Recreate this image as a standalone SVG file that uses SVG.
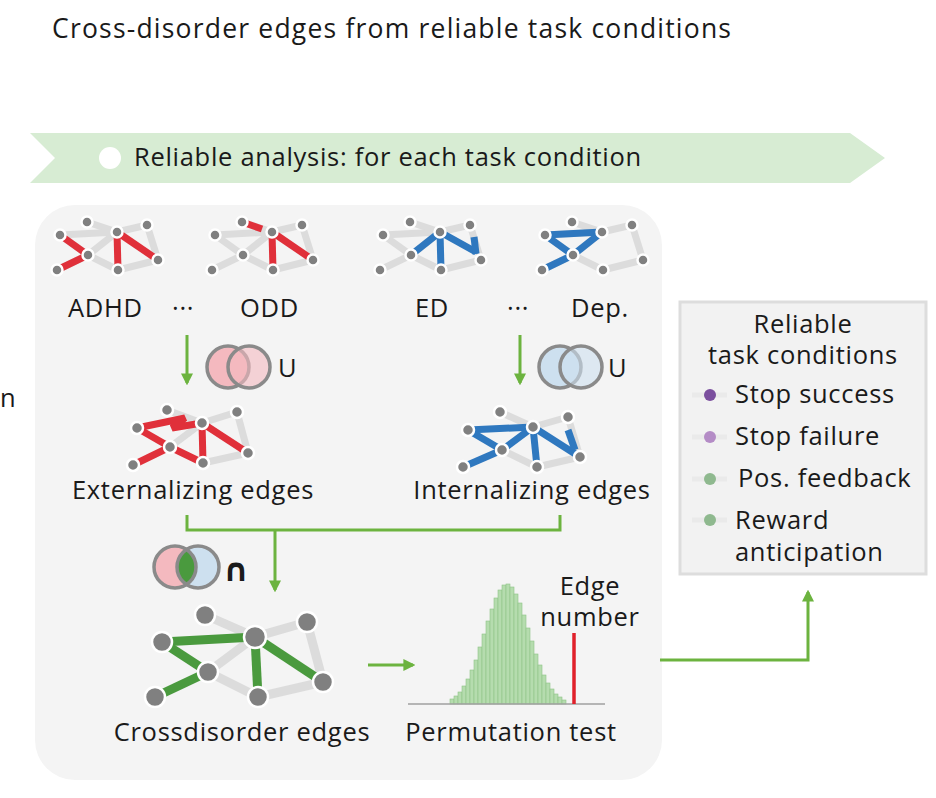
<svg xmlns="http://www.w3.org/2000/svg" xmlns:xlink="http://www.w3.org/1999/xlink" width="936" height="798" viewBox="0 0 936 798">
<style>
text{font-family:"Open Sans","Liberation Sans",sans-serif;fill:#1a1a1a}
.t{font-size:25.5px;letter-spacing:0.7px}
.g{stroke:#dcdcdc;stroke-width:7;stroke-linecap:butt}
.r{stroke:#e0303a;stroke-width:7}
.b{stroke:#2f78bf;stroke-width:7}
.gr{stroke:#4a9a3e;stroke-width:9}
.gl{stroke:#dcdcdc;stroke-width:9}
.n{fill:#808080;stroke:#fff;stroke-width:2.5}
.con{fill:none;stroke:#6cb33f;stroke-width:3}
.bar{fill:#b5dcae;stroke:#8ec386;stroke-width:0.6}
</style>
<defs>
<marker id="ah" viewBox="0 0 10 10" refX="8" refY="5" markerWidth="4" markerHeight="4" orient="auto"><path d="M0,0L10,5L0,10z" fill="#6cb33f"/></marker>
<g id="base">
<line class="g" x1="30" y1="-10" x2="60" y2="0"/><line class="g" x1="3" y1="3" x2="60" y2="0"/>
<line class="g" x1="60" y1="0" x2="90" y2="-7"/><line class="g" x1="90" y1="-7" x2="101" y2="28"/>
<line class="g" x1="31" y1="23" x2="61" y2="38"/><line class="g" x1="61" y1="38" x2="101" y2="28"/>
<line class="g" x1="31" y1="23" x2="60" y2="0"/><line class="g" x1="31" y1="23" x2="0" y2="38"/>
<line class="g" x1="3" y1="3" x2="31" y2="23"/>
</g>
<g id="nodes">
<circle class="n" cx="30" cy="-10" r="5.5"/><circle class="n" cx="3" cy="3" r="5.5"/><circle class="n" cx="60" cy="0" r="5.5"/><circle class="n" cx="90" cy="-7" r="5.5"/><circle class="n" cx="31" cy="23" r="5.5"/><circle class="n" cx="61" cy="38" r="5.5"/><circle class="n" cx="101" cy="28" r="5.5"/><circle class="n" cx="0" cy="38" r="5.5"/>
</g>
</defs>
<rect width="936" height="798" fill="#fff"/>
<text x="52" y="38" style="font-size:26.5px;letter-spacing:1.2px">Cross-disorder edges from reliable task conditions</text>
<g id="banner">
<polygon points="30,133 850,133 885,158 850,183 30,183 55,158" fill="#d7ecd3"/>
<circle cx="110" cy="158" r="11" fill="#fff"/>
<text x="134" y="166" class="t">Reliable analysis: for each task condition</text>
</g>
<text x="0" y="407" class="t">n</text>
<rect id="panel" x="35" y="205" width="627" height="575" rx="40" fill="#f4f4f4"/>

<g id="adhd" transform="translate(57,232)">
<use xlink:href="#base"/>
<line class="r" x1="3" y1="3" x2="31" y2="23"/><line class="r" x1="31" y1="23" x2="0" y2="38"/>
<line class="r" x1="60" y1="0" x2="61" y2="38"/><line class="r" x1="60" y1="0" x2="101" y2="28"/>
<use xlink:href="#nodes"/>
</g>
<g id="odd" transform="translate(212,232)">
<use xlink:href="#base"/>
<line class="r" x1="30" y1="-10" x2="50" y2="-3"/><line class="r" x1="60" y1="0" x2="61" y2="38"/><line class="r" x1="60" y1="0" x2="101" y2="28"/>
<use xlink:href="#nodes"/>
</g>
<g id="ed" transform="translate(380,232)">
<use xlink:href="#base"/>
<line class="b" x1="31" y1="23" x2="60" y2="0"/><line class="b" x1="60" y1="0" x2="61" y2="38"/><line class="b" x1="60" y1="0" x2="96" y2="20"/><line class="b" x1="94" y1="5" x2="96" y2="22"/>
<use xlink:href="#nodes"/>
</g>
<g id="dep" transform="translate(542,232)">
<use xlink:href="#base"/>
<line class="b" x1="3" y1="3" x2="60" y2="0"/><line class="b" x1="60" y1="0" x2="31" y2="23"/><line class="b" x1="3" y1="3" x2="31" y2="23"/><line class="b" x1="31" y1="23" x2="0" y2="38"/>
<use xlink:href="#nodes"/>
</g>
<g id="labels-top">
<text x="68" y="317" class="t">ADHD</text><text x="172" y="317" class="t">···</text><text x="240" y="317" class="t">ODD</text>
<text x="415" y="317" class="t">ED</text><text x="507" y="317" class="t">···</text><text x="571" y="317" class="t">Dep.</text>
</g>

<g id="venn-ext">
<circle cx="228" cy="367" r="21" fill="#f4b9bf" stroke="#8a8a8a" stroke-width="3.5"/>
<circle cx="249" cy="367" r="21" fill="#f4b9bf" fill-opacity="0.6" stroke="#8a8a8a" stroke-width="3.5"/>
<text x="278" y="377" class="t">U</text>
</g>
<g id="venn-int">
<circle cx="560" cy="367" r="21" fill="#cde0ef" stroke="#8a8a8a" stroke-width="3.5"/>
<circle cx="581" cy="367" r="21" fill="#cde0ef" fill-opacity="0.6" stroke="#8a8a8a" stroke-width="3.5"/>
<text x="608" y="377" class="t">U</text>
</g>

<g id="ext-net">
<line class="g" x1="167" y1="410" x2="202" y2="423"/><line class="g" x1="202" y1="423" x2="237" y2="412"/><line class="g" x1="237" y1="412" x2="248" y2="453"/><line class="g" x1="203" y1="463" x2="248" y2="453"/><line class="g" x1="170" y1="447" x2="202" y2="423"/>
<polyline class="r" fill="none" points="137,428 185,418 172,428 202,423"/>
<line class="r" x1="137" y1="428" x2="170" y2="447"/><line class="r" x1="170" y1="447" x2="133" y2="465"/><line class="r" x1="170" y1="447" x2="203" y2="463"/><line class="r" x1="202" y1="423" x2="203" y2="463"/><line class="r" x1="202" y1="423" x2="248" y2="453"/>
<g><circle class="n" cx="167" cy="410" r="6"/><circle class="n" cx="137" cy="428" r="6"/><circle class="n" cx="202" cy="423" r="6"/><circle class="n" cx="237" cy="412" r="6"/><circle class="n" cx="170" cy="447" r="6"/><circle class="n" cx="203" cy="463" r="6"/><circle class="n" cx="248" cy="453" r="6"/><circle class="n" cx="133" cy="465" r="6"/></g>
<text x="193" y="499" class="t" text-anchor="middle">Externalizing edges</text>
</g>
<g id="int-net">
<line class="g" x1="500" y1="412" x2="533" y2="427"/><line class="g" x1="533" y1="427" x2="568" y2="417"/><line class="g" x1="568" y1="417" x2="580" y2="457"/><line class="g" x1="537" y1="467" x2="580" y2="457"/><line class="g" x1="502" y1="450" x2="537" y2="467"/>
<line class="b" x1="468" y1="430" x2="533" y2="427"/><line class="b" x1="468" y1="430" x2="502" y2="450"/><line class="b" x1="502" y1="450" x2="463" y2="467"/><line class="b" x1="502" y1="450" x2="533" y2="427"/><line class="b" x1="533" y1="427" x2="537" y2="467"/><line class="b" x1="533" y1="427" x2="580" y2="457"/><line class="b" x1="568" y1="430" x2="575" y2="450"/>
<g><circle class="n" cx="500" cy="412" r="6"/><circle class="n" cx="468" cy="430" r="6"/><circle class="n" cx="533" cy="427" r="6"/><circle class="n" cx="568" cy="417" r="6"/><circle class="n" cx="502" cy="450" r="6"/><circle class="n" cx="537" cy="467" r="6"/><circle class="n" cx="580" cy="457" r="6"/><circle class="n" cx="463" cy="467" r="6"/></g>
<text x="532" y="499" class="t" text-anchor="middle">Internalizing edges</text>
</g>

<g id="venn-and">
<clipPath id="cl"><circle cx="175" cy="567" r="21"/></clipPath>
<circle cx="175" cy="567" r="21" fill="#f4b9bf"/>
<circle cx="198" cy="567" r="21" fill="#cde0ef"/>
<circle cx="198" cy="567" r="21" fill="#4a9a3e" clip-path="url(#cl)"/>
<circle cx="175" cy="567" r="21" fill="none" stroke="#8a8a8a" stroke-width="3.5"/>
<circle cx="198" cy="567" r="21" fill="none" stroke="#8a8a8a" stroke-width="3.5"/>
<text x="223" y="581" style="font-size:32px;font-weight:900;font-family:'DejaVu Sans',sans-serif">∩</text>
</g>

<g id="cross-net">
<line class="gl" x1="205" y1="615" x2="255" y2="637"/><line class="gl" x1="255" y1="637" x2="307" y2="622"/><line class="gl" x1="307" y1="622" x2="323" y2="682"/><line class="gl" x1="208" y1="672" x2="255" y2="637"/><line class="gl" x1="208" y1="672" x2="258" y2="697"/><line class="gl" x1="258" y1="697" x2="323" y2="682"/>
<line class="gr" x1="162" y1="642" x2="255" y2="637"/><line class="gr" x1="162" y1="642" x2="208" y2="672"/><line class="gr" x1="208" y1="672" x2="155" y2="697"/><line class="gr" x1="255" y1="637" x2="258" y2="697"/><line class="gr" x1="255" y1="637" x2="323" y2="682"/>
<g><circle class="n" cx="205" cy="615" r="10"/><circle class="n" cx="162" cy="642" r="10"/><circle class="n" cx="255" cy="637" r="11"/><circle class="n" cx="307" cy="622" r="10"/><circle class="n" cx="208" cy="672" r="10"/><circle class="n" cx="258" cy="697" r="10"/><circle class="n" cx="323" cy="682" r="10"/><circle class="n" cx="155" cy="697" r="10"/></g>
<text x="242" y="741" class="t" text-anchor="middle">Crossdisorder edges</text>
</g>

<g id="histogram">
<rect class="bar" x="450" y="699" width="4" height="5"/><rect class="bar" x="454" y="696" width="4" height="8"/><rect class="bar" x="458" y="692" width="4" height="12"/><rect class="bar" x="462" y="686" width="4" height="18"/><rect class="bar" x="466" y="679" width="4" height="25"/><rect class="bar" x="470" y="670" width="4" height="34"/><rect class="bar" x="474" y="660" width="4" height="44"/><rect class="bar" x="478" y="647" width="4" height="57"/><rect class="bar" x="482" y="634" width="4" height="70"/><rect class="bar" x="486" y="621" width="4" height="83"/><rect class="bar" x="490" y="609" width="4" height="95"/><rect class="bar" x="494" y="598" width="4" height="106"/><rect class="bar" x="498" y="590" width="4" height="114"/><rect class="bar" x="502" y="585" width="4" height="119"/><rect class="bar" x="506" y="584" width="4" height="120"/><rect class="bar" x="510" y="587" width="4" height="117"/><rect class="bar" x="514" y="594" width="4" height="110"/><rect class="bar" x="518" y="603" width="4" height="101"/><rect class="bar" x="522" y="615" width="4" height="89"/><rect class="bar" x="526" y="628" width="4" height="76"/><rect class="bar" x="530" y="641" width="4" height="63"/><rect class="bar" x="534" y="654" width="4" height="50"/><rect class="bar" x="538" y="665" width="4" height="39"/><rect class="bar" x="542" y="675" width="4" height="29"/><rect class="bar" x="546" y="683" width="4" height="21"/><rect class="bar" x="550" y="689" width="4" height="15"/><rect class="bar" x="554" y="694" width="4" height="10"/><rect class="bar" x="558" y="697" width="4" height="7"/><rect class="bar" x="562" y="700" width="4" height="4"/>
<line x1="408" y1="704" x2="605" y2="704" stroke="#a0a0a0" stroke-width="1.5"/>
<line x1="574" y1="633" x2="574" y2="704" stroke="#e0202a" stroke-width="3.5"/>
<text x="590" y="595" class="t" text-anchor="middle">Edge</text>
<text x="590" y="626" class="t" text-anchor="middle">number</text>
<text x="511" y="741" class="t" text-anchor="middle">Permutation test</text>
</g>

<g id="legend">
<rect x="680" y="302" width="246" height="272" fill="#f2f2f2" stroke="#dddddd" stroke-width="3"/>
<text x="803" y="333" class="t" text-anchor="middle">Reliable</text>
<text x="803" y="364" class="t" text-anchor="middle">task conditions</text>
<line x1="692" y1="395" x2="727" y2="395" stroke="#eaeaea" stroke-width="5"/><circle cx="710" cy="395" r="6" fill="#7b4f9e"/>
<line x1="692" y1="437" x2="727" y2="437" stroke="#eaeaea" stroke-width="5"/><circle cx="710" cy="437" r="6" fill="#b48cc6"/>
<line x1="692" y1="479" x2="727" y2="479" stroke="#eaeaea" stroke-width="5"/><circle cx="710" cy="479" r="6" fill="#8fb98f"/>
<line x1="692" y1="520" x2="727" y2="520" stroke="#eaeaea" stroke-width="5"/><circle cx="710" cy="520" r="6" fill="#8fb98f"/>
<text x="735" y="403" class="t">Stop success</text>
<text x="735" y="445" class="t">Stop failure</text>
<text x="738" y="487" class="t">Pos. feedback</text>
<text x="735" y="529" class="t">Reward</text>
<text x="735" y="561" class="t">anticipation</text>
</g>

<g id="connectors">
<line class="con" x1="187" y1="335" x2="187" y2="383" marker-end="url(#ah)"/>
<line class="con" x1="520" y1="335" x2="520" y2="383" marker-end="url(#ah)"/>
<polyline class="con" points="187,515 187,530 560,530 560,515"/>
<line class="con" x1="275" y1="530" x2="275" y2="590" marker-end="url(#ah)"/>
<line class="con" x1="368" y1="665" x2="413" y2="665" marker-end="url(#ah)"/>
<polyline class="con" points="660,660 808,660 808,592" marker-end="url(#ah)"/>
</g>
</svg>
